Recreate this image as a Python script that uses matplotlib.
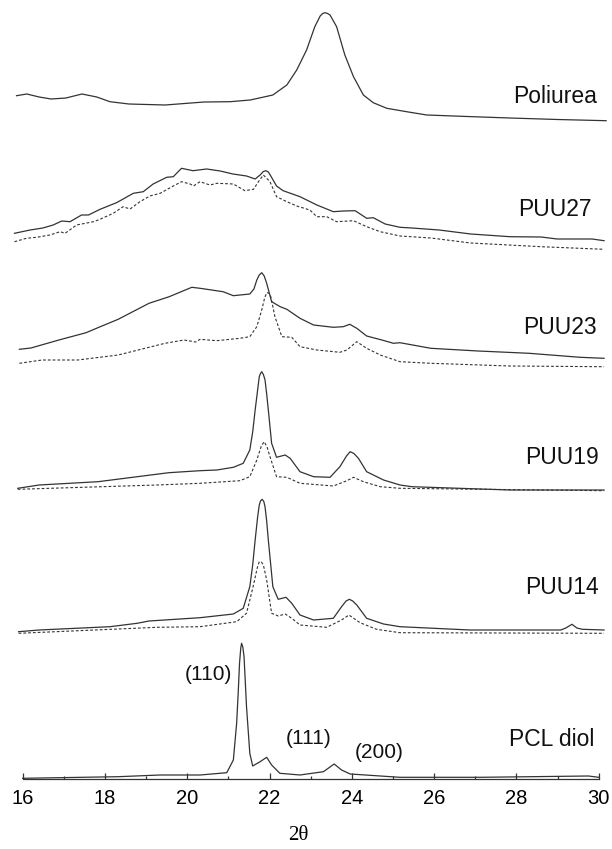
import numpy as np
import matplotlib
matplotlib.use('Agg')
import matplotlib.pyplot as plt
from matplotlib.ticker import MultipleLocator

plt.rcParams['font.family'] = ['Liberation Sans', 'DejaVu Sans']

# intensities (arbitrary units), each trace on its own baseline
poli_x = [15.85, 16.10, 16.40, 16.69, 17.05, 17.44, 17.80, 18.12, 18.58, 19.46, 20.41, 21.04, 21.53,
          22.08, 22.42, 22.66, 22.90, 23.10, 23.23, 23.29, 23.35, 23.41, 23.47, 23.63, 23.83, 24.04,
          24.28, 24.52, 24.85, 25.33, 25.82, 26.80, 27.84, 29.00, 30.18]
poli_y = [28.3, 30, 27, 25, 26, 30, 27, 22.3, 20, 19, 22, 22.3, 24,
          29, 39, 54, 74, 97.3, 108, 110.5, 111.3, 110.5, 109, 97.3, 69, 47.3,
          29, 21.3, 15.7, 12.3, 9, 7.5, 6, 4.5, 3.3]

puu27_x = [15.80, 16.18, 16.49, 16.74, 16.95, 17.15, 17.43, 17.60, 17.88, 18.28, 18.69, 18.93, 19.17,
           19.50, 19.66, 19.86, 20.14, 20.47, 20.80, 21.11, 21.44, 21.65, 21.77, 21.85, 21.91, 21.97,
           22.03, 22.17, 22.33, 22.74, 23.15, 23.55, 23.79, 24.08, 24.36, 24.52, 24.81, 25.17, 25.46,
           26.12, 26.89, 27.84, 28.60, 28.99, 29.84, 30.13]
puu27_y = [20.7, 24, 26, 29, 33, 32.3, 39, 39, 44.7, 51.3, 60.7, 62.3, 70,
           76.7, 77.3, 85.7, 83.3, 85, 83, 80, 78, 75, 79, 82.5, 83.3, 82,
           78, 68, 63.3, 57.3, 49, 42.3, 43, 43.3, 35.7, 36.3, 30, 26.7, 26,
           24, 20, 17.3, 17, 15, 15, 13.3]
puu27d_x = [15.80, 16.09, 16.34, 16.66, 16.91, 17.03, 17.31, 17.72, 17.88, 18.20, 18.44, 18.61, 18.85,
            19.09, 19.34, 19.66, 19.86, 20.07, 20.15, 20.31, 20.55, 20.72, 21.12, 21.40, 21.61, 21.73,
            21.85, 22.01, 22.17, 22.42, 22.66, 22.98, 23.15, 23.39, 23.63, 24.04, 24.36, 24.69, 25.17,
            25.92, 26.89, 28.60, 30.13]
puu27d_y = [12.3, 15.7, 16.7, 19, 22.3, 20.7, 29, 32.3, 34.7, 40.7, 47.3, 45, 52.3,
            58, 60.7, 68, 72.3, 70, 68, 72.3, 69, 70.7, 70, 63.3, 64.7, 72.3,
            79, 72.3, 57.3, 52.3, 48, 44, 37.3, 37.3, 32.3, 33.3, 27.3, 22.3, 18,
            16, 11, 7.3, 4.7]

puu23_x = [15.92, 16.20, 16.88, 17.54, 17.81, 18.32, 19.07, 19.56, 20.11, 20.31, 20.87, 21.12, 21.52,
           21.62, 21.69, 21.75, 21.81, 21.87, 21.93, 22.05, 22.26, 22.42, 22.74, 23.07, 23.55, 23.79,
           23.95, 24.12, 24.36, 24.73, 25.01, 25.17, 25.92, 27.07, 28.31, 29.55, 30.13]
puu23_y = [24.7, 26, 34, 41.3, 46, 54.7, 70.7, 77.3, 86.7, 85.7, 82.3, 78.3, 80,
           85, 94, 99, 101.3, 98, 90.7, 72.3, 67.3, 64.7, 55.7, 49, 46.7, 47.3,
           49.7, 45.7, 38, 34, 30.7, 31.3, 25.7, 23, 20.7, 16.7, 15.7]
puu23d_x = [15.92, 16.47, 17.34, 18.32, 19.46, 19.92, 20.21, 20.31, 20.71, 21.28, 21.52, 21.69, 21.81,
            21.88, 21.93, 21.98, 22.03, 22.13, 22.30, 22.54, 22.74, 23.15, 23.71, 23.88, 24.12, 24.36,
            24.69, 25.17, 25.92, 27.84, 30.13]
puu23d_y = [10.7, 14, 14, 19, 30.7, 34, 32, 34.7, 33.3, 35.7, 37.3, 47.3, 64,
            76, 81.3, 81, 77.3, 57.3, 37.3, 36.7, 27.3, 24, 21.7, 24, 32.3, 25.7,
            19, 12.3, 10.7, 8, 7.3]

puu19_x = [15.88, 16.40, 17.83, 19.55, 20.31, 20.72, 21.12, 21.36, 21.52, 21.59, 21.65, 21.71, 21.75,
           21.78, 21.81, 21.85, 21.89, 21.93, 21.97, 22.05, 22.17, 22.38, 22.50, 22.74, 23.07, 23.47,
           23.71, 23.87, 23.96, 24.05, 24.16, 24.36, 24.77, 25.17, 25.46, 27.84, 30.13]
puu19_y = [5.7, 9, 12.3, 21.3, 23.3, 24, 26.7, 30.7, 44, 62, 84, 104, 117.3,
           120.5, 122.3, 119.5, 114, 100, 84, 50.7, 36.7, 39, 35.7, 22.3, 17.3, 16.7,
           27.3, 38, 42.3, 40.5, 35.7, 22.3, 14, 9, 7.3, 4, 4]
puu19d_x = [15.88, 19.27, 20.31, 21.28, 21.52, 21.69, 21.80, 21.87, 21.94, 22.01, 22.17, 22.42, 22.74,
            23.55, 23.88, 24.04, 24.28, 24.69, 25.17, 30.13]
puu19d_y = [4.7, 9, 10.7, 13.3, 17.3, 34, 48, 52.3, 47, 37.3, 17.3, 16.7, 10.7,
            8, 13.3, 16.7, 12.3, 7.3, 5.7, 3.3]

puu14_x = [15.90, 16.40, 18.12, 18.78, 19.07, 20.31, 21.12, 21.36, 21.52, 21.59, 21.65, 21.71, 21.75,
           21.78, 21.82, 21.86, 21.89, 21.93, 21.97, 22.08, 22.21, 22.40, 22.54, 22.74, 23.07, 23.55,
           23.75, 23.86, 23.94, 24.02, 24.12, 24.36, 24.77, 25.17, 26.87, 29.08, 29.20, 29.35, 29.47,
           29.60, 30.13]
puu14_y = [7.3, 9, 12.3, 15.7, 18, 21.3, 25, 30.7, 52.3, 74, 99, 122, 134,
           138, 139.7, 137.5, 132.3, 118, 99, 52.3, 39.7, 41.7, 35.7, 24, 19, 20.7,
           32.3, 38, 39.7, 38, 34, 20.7, 15, 12.3, 9, 9, 11, 14.7, 11,
           9.7, 9]
puu14d_x = [15.90, 19.27, 20.31, 21.20, 21.44, 21.60, 21.70, 21.75, 21.80, 21.85, 21.93, 22.05, 22.21,
            22.38, 22.54, 22.74, 23.39, 23.75, 23.93, 24.20, 24.60, 25.17, 30.13]
puu14d_y = [5.7, 11.7, 12.3, 17.3, 25.7, 52.3, 71, 77.3, 77, 74, 59, 25.7, 23,
            25, 20.7, 14, 11.7, 19, 24, 16.3, 9.7, 6.3, 5.7]

pcl_x = [16.00, 18.32, 19.34, 20.31, 20.96, 21.12, 21.20, 21.24, 21.27, 21.30, 21.32, 21.35, 21.38,
         21.44, 21.52, 21.59, 21.77, 21.93, 22.05, 22.25, 22.74, 23.31, 23.57, 23.75, 23.96, 25.17,
         27.12, 29.75, 30.00]
pcl_y = [0.7, 2.3, 4, 4, 6.3, 19, 55.7, 88, 115.7, 131, 135.7, 132, 122.3,
         72.3, 25.7, 13, 17.3, 21.7, 14, 5.7, 4, 7.3, 15, 9, 5, 1.7,
         1.7, 3, 1.7]

names = ['Poliurea', 'PUU27', 'PUU23', 'PUU19', 'PUU14', 'PCL diol']
offsets = [655, 525, 405, 285, 140, 0]
solid = [(poli_x, poli_y), (puu27_x, puu27_y), (puu23_x, puu23_y),
         (puu19_x, puu19_y), (puu14_x, puu14_y), (pcl_x, pcl_y)]
dashed = [None, (puu27d_x, puu27d_y), (puu23d_x, puu23d_y),
          (puu19d_x, puu19d_y), (puu14d_x, puu14d_y), None]
label_x = [29.96, 29.84, 29.96, 30.0, 30.0, 29.89]
label_h = [683, 570, 451, 322, 191, 39]

hkl = ['(110)', '(111)', '(200)']
hkl_x = [20.52, 22.94, 24.67]
hkl_h = [104, 41, 27]

fig = plt.figure(figsize=(6.12, 8.49), dpi=100)
ax = fig.add_axes([22.7 / 612, 70 / 849, 576 / 612, 779 / 849])

col = '#333333'
for i in range(len(names)):
    x, y = solid[i]
    ax.plot(x, np.array(y) + offsets[i], color=col, lw=0.9, clip_on=False)
    if dashed[i] is not None:
        x, y = dashed[i]
        ax.plot(x, np.array(y) + offsets[i], color=col, lw=0.8, dashes=(2.5, 1.8), clip_on=False)
    ax.text(label_x[i], label_h[i], names[i], ha='right', va='center', fontsize=16.5, color='#111111')

for t, xx, hh in zip(hkl, hkl_x, hkl_h):
    ax.text(xx, hh, t, ha='center', va='center', fontsize=15, color='#111111')

ax.set_xlim(16, 30)
ax.set_ylim(0, 779)
for s in ['left', 'right', 'top']:
    ax.spines[s].set_visible(False)
ax.spines['bottom'].set_color(col)
ax.spines['bottom'].set_linewidth(0.9)
ax.set_yticks([])
ax.xaxis.set_major_locator(MultipleLocator(2))
ax.xaxis.set_minor_locator(MultipleLocator(1))
ax.tick_params(axis='x', which='major', direction='in', length=4, width=0.9, color=col,
               labelsize=14.5, pad=7)
ax.tick_params(axis='x', which='minor', direction='in', length=2.5, width=0.9, color=col)

fig.text(298 / 612, 1 - 836 / 849, '2θ', ha='center', va='center', fontsize=15,
         family=['Liberation Serif', 'DejaVu Serif'])

fig.savefig('out.png', dpi=100)
